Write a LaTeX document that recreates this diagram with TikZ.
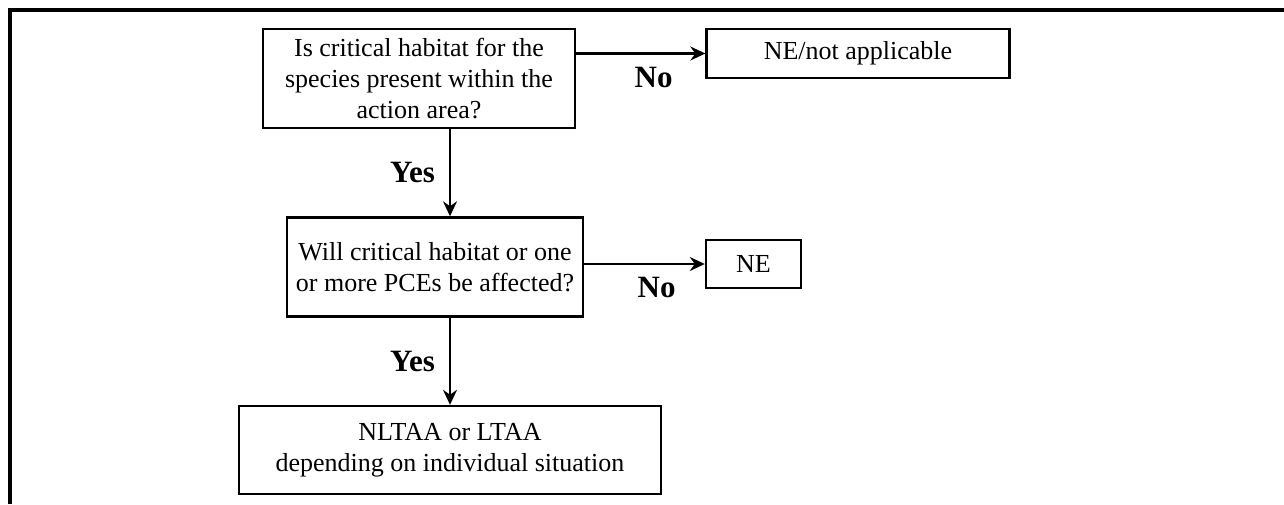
\documentclass[tikz,border=0pt]{standalone}
\usepackage{fontspec}
\setmainfont{Liberation Serif}
\usetikzlibrary{arrows.meta,positioning}
\begin{document}
\begin{tikzpicture}[x=0.5pt, y=-0.5pt,
    every node/.style={font=\fontsize{13}{15.5}\selectfont},
    box/.style={draw, line width=1.2pt, align=center, inner sep=0pt},
    lbl/.style={font=\fontsize{15.5}{18}\selectfont\bfseries, inner sep=2pt},
    arr/.style={-{Stealth[length=7.5pt, width=7pt, inset=2.5pt]}, line width=1.2pt}]
  \useasboundingbox (0,0) rectangle (1284,504);
  \draw[line width=1.6pt] (10,504) -- (10,10) -- (1284,10);
  % questions
  \node[box, minimum width=156pt, minimum height=49.5pt] (habitat) at (419,78.5)
    {Is critical habitat for the\\species present within the\\action area?};
  \node[box, minimum width=148pt, minimum height=49.5pt] (affect) at (435,267)
    {Will critical habitat or one\\or more PCEs be affected?};
  % answers
  \node[box, minimum width=151.5pt, minimum height=24.5pt] (na) at (858,53.5) {NE/not applicable};
  \node[box, minimum width=47.5pt, minimum height=24pt] (ne) at (753.5,264) {NE};
  \node[box, minimum width=211pt, minimum height=44pt] (outcome) at (450,450)
    {NLTAA or LTAA\\depending on individual situation};
  % connectors
  \draw[arr] (habitat.east |- na.west) -- node[lbl, pos=0.6, below=4pt] {No} (na.west);
  \draw[arr] (habitat.south -| outcome.north) -- node[lbl, left=5pt] {Yes} (affect.north -| outcome.north);
  \draw[arr] (affect.east |- ne.west) -- node[lbl, pos=0.6, below=4pt] {No} (ne.west);
  \draw[arr] (affect.south -| outcome.north) -- node[lbl, left=5pt] {Yes} (outcome.north);
\end{tikzpicture}
\end{document}
